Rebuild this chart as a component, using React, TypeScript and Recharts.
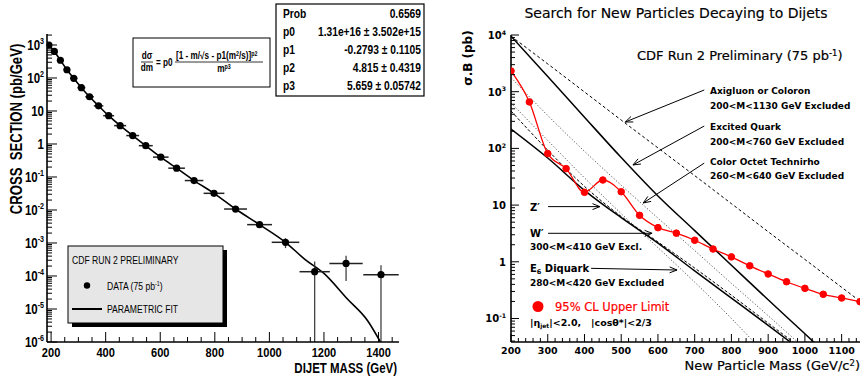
import React from "react";
import {
  ComposedChart,
  ErrorBar,
  Line,
  ReferenceLine,
  Scatter,
  XAxis,
  YAxis,
} from "recharts";

// no condensed face is installed, so the Helvetica-narrow look is made by squeezing Liberation Sans
const SANS = "'Liberation Sans', Arial, sans-serif";
const SQUEEZE = 0.82;
const GOTHIC = "'DejaVu Sans', Verdana, sans-serif";

// ---- dijet mass spectrum (left panel)
const dijetMass = [192, 212, 234, 258, 283, 311, 341, 374, 411, 453, 499, 547, 602, 660, 724, 797, 876, 964, 1059, 1166, 1281, 1409];
const crossSection = [1000, 640, 345, 178, 98, 51, 27, 14.3, 7.2, 3.6, 1.8, 0.89, 0.4, 0.185, 0.078, 0.032, 0.0107, 0.0036, 0.00105, 1.35e-4, 2.4e-4, 1.1e-4];
const binHalfWidth = [10, 10.5, 11.5, 12, 13.5, 14.5, 15.5, 17.5, 20, 22, 23.5, 25.5, 28.5, 30.5, 34, 38, 42, 45.5, 50.5, 55.5, 61, 65];
const statErrLow = [0, 0, 0, 0, 0, 0, 0, 0, 0, 0, 0, 0, 0, 0, 0, 0, 0, 0, 3.5e-4, 1.34e-4, 1.7e-4, 1.09e-4];
const statErrHigh = [0, 0, 0, 0, 0, 0, 0, 0, 0, 0, 0, 0, 0, 0, 0, 0, 0, 0, 3.5e-4, 1.4e-4, 1.7e-4, 1.0e-4];

// parametric fit, sampled along the curve
const fitMass = [192, 212, 234, 258, 283, 311, 341, 374, 411, 453, 499, 547, 602, 660, 724, 797, 876, 964, 1059, 1130, 1200, 1286, 1360, 1407];
const fitValue = [1000, 640, 345, 178, 98, 51, 27, 14.3, 7.2, 3.6, 1.8, 0.89, 0.4, 0.185, 0.078, 0.032, 0.0107, 0.0036, 0.00105, 3.2e-4, 1.2e-4, 2e-5, 4.4e-6, 1e-6];

const fitStats = [
  ["Prob", "0.6569"],
  ["p0", "1.31e+16 \u00b1 3.502e+15"],
  ["p1", "-0.2793 \u00b1 0.1105"],
  ["p2", "4.815 \u00b1 0.4319"],
  ["p3", "5.659 \u00b1 0.05742"],
];

const leftMassTicks = [200, 250, 300, 350, 400, 450, 500, 550, 600, 650, 700, 750, 800, 850, 900, 950, 1000, 1050, 1100, 1150, 1200, 1250, 1300, 1350, 1400, 1450];
const leftDecades = [1e-6, 1e-5, 1e-4, 1e-3, 0.01, 0.1, 1, 10, 100, 1000];
const logSteps = [1, 2, 3, 4, 5, 6, 7, 8, 9];

// ---- resonance search (right panel)
const limitMass = [200, 250, 300, 350, 400, 450, 500, 550, 600, 650, 700, 750, 800, 850, 900, 950, 1000, 1050, 1100, 1150];
const limitValue = [2320, 660, 81, 44, 16.8, 27.7, 17.2, 6.6, 4.0, 3.2, 2.4, 1.68, 1.22, 0.85, 0.61, 0.445, 0.34, 0.267, 0.23, 0.198];

const theoryMass = [200, 300, 400, 500, 600, 700, 800, 900, 1000, 1100, 1200];
const axigluon = [9550, 3090, 990, 316, 102, 33.1, 10.6, 3.39, 1.1, 0.355, 0.115];
const excitedQuark = [9550, 1860, 355, 69, 14.5, 3.55, 0.87, 0.214, 0.0537, 0.0132, 0.0032];
const technirho = [1780, 380, 89, 22.4, 5.9, 1.58, 0.417, 0.112, 0.0295, 0.0078, 0.002];
const e6Diquark = [631, 138, 30.2, 7.08, 1.78, 0.437, 0.1, 0.0209, 0.0044, 0.0009, 0.0002];
const wPrime = [457, 93, 21.4, 6.3, 2.24, 0.776, 0.257, 0.083, 0.0269, 0.0087, 0.0028];
const zPrime = [219, 67.6, 18.2, 6.0, 2.14, 0.69, 0.229, 0.0759, 0.0245, 0.0079, 0.0026];

const rightMassMajors = [200, 300, 400, 500, 600, 700, 800, 900, 1000, 1100];
const rightMassSteps = [0, 20, 40, 60, 80];
const rightDecades = [0.01, 0.1, 1, 10, 100, 1000];

// arrows from the model labels to their curves: [mass, σB] start -> tip
const arrows = [
  [726, 1072, 511, 292],
  [726, 248, 532, 51],
  [726, 55, 560, 10.9],
  [301, 9.4, 442, 9.4],
  [301, 3.18, 584, 3.18],
  [418, 0.767, 652, 0.716],
];

const LEFT_Y = [1e-6, 2154] as [number, number];
const LEFT_X = [185, 1475] as [number, number];
const RIGHT_Y = [0.0385, 10000] as [number, number];
const RIGHT_X = [200, 1150] as [number, number];

const spectrum = dijetMass.map((m, i) => ({
  m,
  v: crossSection[i],
  xe: binHalfWidth[i],
  ye: [statErrLow[i], statErrHigh[i]],
}));
const fitCurve = fitMass.map((m, i) => ({ m, v: fitValue[i] }));
const limitCurve = limitMass.map((m, i) => ({ m, v: limitValue[i] }));
const toCurve = (vals: number[]) => theoryMass.map((m, i) => ({ m, v: vals[i] }));

const leftYTicks = leftDecades.flatMap((d) => logSteps.map((s) => d * s)).filter((v) => v <= LEFT_Y[1]);
const rightYTicks = rightDecades
  .flatMap((d) => logSteps.map((s) => d * s))
  .filter((v) => v >= RIGHT_Y[0])
  .concat([10000]);
const rightXTicks = rightMassMajors.flatMap((m) => rightMassSteps.map((s) => m + s)).filter((m) => m <= RIGHT_X[1]);

const isDecade = (v: number) => Math.abs(Math.log10(v) - Math.round(Math.log10(v))) < 1e-6;

// text placed with a transform so it can be rotated and/or squeezed horizontally
function Txt({ x, y, rotate = 0, squeeze = 1, anchor = "start", children, ...rest }: any) {
  let t = `translate(${x},${y})`;
  if (rotate) t += ` rotate(${rotate})`;
  if (squeeze !== 1) t += ` scale(${squeeze},1)`;
  return (
    <text transform={t} textAnchor={anchor} fill="#000" {...rest}>
      {children}
    </text>
  );
}

function PowerText({ x, y, v, size, font, weight, squeeze = 1 }: any) {
  const e = Math.round(Math.log10(v));
  const common = { x, y, squeeze, anchor: "end", fontFamily: font, fontWeight: weight, fontSize: size };
  if (e === 0) return <Txt {...common}>1</Txt>;
  if (e === 1) return <Txt {...common}>10</Txt>;
  return (
    <Txt {...common}>
      10
      <tspan dy={-size * 0.45} fontSize={size * 0.62}>
        {e}
      </tspan>
    </Txt>
  );
}

// ---- axis tick renderers (ticks point into the frame)
const leftYTick = (p: any) => {
  const v = p.payload.value;
  const major = isDecade(v);
  return (
    <g>
      <line x1={p.x} x2={p.x + (major ? 10 : 5)} y1={p.y} y2={p.y} stroke="#000" strokeWidth={1} />
      {major && <PowerText x={p.x - 3} y={p.y + 5} v={v} size={14} font={SANS} weight="bold" squeeze={SQUEEZE} />}
    </g>
  );
};

const leftXTick = (p: any) => {
  const v = p.payload.value;
  const major = v % 200 === 0;
  return (
    <g>
      <line x1={p.x} x2={p.x} y1={p.y} y2={p.y - (major ? 10 : 5)} stroke="#000" strokeWidth={1} />
      {major && (
        <Txt x={p.x} y={p.y + 15} anchor="middle" squeeze={SQUEEZE} fontFamily={SANS} fontWeight="bold" fontSize={13.5}>
          {v}
        </Txt>
      )}
    </g>
  );
};

const rightYTick = (p: any) => {
  const v = p.payload.value;
  const major = isDecade(v);
  return (
    <g>
      <line x1={p.x} x2={p.x + (major ? 8 : 4)} y1={p.y} y2={p.y} stroke="#000" strokeWidth={1} />
      {major && <PowerText x={p.x - 5} y={p.y + 4} v={v} size={10} font={GOTHIC} weight="bold" />}
    </g>
  );
};

const rightYMirrorTick = (p: any) => {
  const major = isDecade(p.payload.value);
  return <line x1={p.x} x2={p.x - (major ? 8 : 4)} y1={p.y} y2={p.y} stroke="#000" strokeWidth={1} />;
};

const rightXTick = (p: any) => {
  const v = p.payload.value;
  const major = v % 100 === 0;
  return (
    <g>
      <line x1={p.x} x2={p.x} y1={p.y} y2={p.y - (major ? 8 : 4)} stroke="#000" strokeWidth={1} />
      {major && (
        <Txt x={p.x} y={p.y + 12} anchor="middle" fontFamily={GOTHIC} fontWeight="bold" fontSize={9.5}>
          {v}
        </Txt>
      )}
    </g>
  );
};

const rightXTopTick = (p: any) => {
  const major = p.payload.value % 100 === 0;
  return <line x1={p.x} x2={p.x} y1={p.y} y2={p.y + (major ? 8 : 4)} stroke="#000" strokeWidth={1} />;
};

const ArrowShape = (p: any) => {
  const { x1, y1, x2, y2 } = p;
  const a = Math.atan2(y2 - y1, x2 - x1);
  const L = 8;
  const W = 0.38;
  return (
    <g>
      <line x1={x1} y1={y1} x2={x2} y2={y2} stroke="#000" strokeWidth={1} />
      <polyline
        points={`${x2 - L * Math.cos(a - W)},${y2 - L * Math.sin(a - W)} ${x2},${y2} ${x2 - L * Math.cos(a + W)},${y2 - L * Math.sin(a + W)}`}
        fill="none"
        stroke="#000"
        strokeWidth={1}
      />
    </g>
  );
};

const frame = { stroke: "#000", strokeWidth: 1.6 };

function SpectrumPanel() {
  return (
    <ComposedChart
      width={430}
      height={381}
      margin={{ top: 34, right: 31, bottom: 0, left: 0 }}
      style={{ position: "absolute", left: 0, top: 0 }}
    >
      <XAxis
        xAxisId="b"
        dataKey="m"
        type="number"
        domain={LEFT_X}
        allowDataOverflow
        ticks={leftMassTicks}
        interval={0}
        tickSize={0}
        tickMargin={0}
        tickLine={false}
        tick={leftXTick}
        height={39}
        axisLine={frame}
      />
      <XAxis xAxisId="t" orientation="top" type="number" domain={LEFT_X} allowDataOverflow tick={false} tickLine={false} height={0} axisLine={frame} />
      <YAxis
        yAxisId="l"
        type="number"
        scale="log"
        domain={LEFT_Y}
        allowDataOverflow
        ticks={leftYTicks}
        interval={0}
        tickSize={0}
        tickMargin={0}
        tickLine={false}
        tick={leftYTick}
        width={47}
        axisLine={frame}
      />
      <YAxis yAxisId="r" orientation="right" type="number" scale="log" domain={LEFT_Y} allowDataOverflow tick={false} tickLine={false} width={0} axisLine={frame} />
      <Line
        xAxisId="b"
        yAxisId="l"
        data={fitCurve}
        dataKey="v"
        type="monotone"
        stroke="#000"
        strokeWidth={1.6}
        dot={false}
        isAnimationActive={false}
      />
      <Scatter
        xAxisId="b"
        yAxisId="l"
        data={spectrum}
        dataKey="v"
        isAnimationActive={false}
        shape={(s: any) => <circle cx={s.cx} cy={s.cy} r={3.6} fill="#000" />}
      >
        <ErrorBar dataKey="xe" direction="x" width={0} stroke="#222" strokeWidth={1.5} />
        <ErrorBar dataKey="ye" direction="y" width={0} stroke="#333" strokeWidth={1.2} />
      </Scatter>
    </ComposedChart>
  );
}

function SearchPanel() {
  const theory = [
    { vals: axigluon, dash: "3 2.5", color: "#000", w: 1 },
    { vals: excitedQuark, dash: undefined, color: "#000", w: 1.5 },
    { vals: technirho, dash: "1.2 2", color: "#555", w: 1 },
    { vals: e6Diquark, dash: "1.2 2", color: "#555", w: 1 },
    { vals: wPrime, dash: "3 2", color: "#000", w: 1 },
    { vals: zPrime, dash: undefined, color: "#000", w: 1.5 },
  ];
  return (
    <ComposedChart
      width={436}
      height={381}
      margin={{ top: 35, right: 6, bottom: 0, left: 0 }}
      style={{ position: "absolute", left: 430, top: 0 }}
    >
      <XAxis
        xAxisId="b"
        dataKey="m"
        type="number"
        domain={RIGHT_X}
        allowDataOverflow
        ticks={rightXTicks}
        interval={0}
        tickSize={0}
        tickMargin={0}
        tickLine={false}
        tick={rightXTick}
        height={39}
        axisLine={frame}
      />
      <XAxis
        xAxisId="t"
        orientation="top"
        type="number"
        domain={RIGHT_X}
        allowDataOverflow
        ticks={rightXTicks}
        interval={0}
        tickSize={0}
        tickMargin={0}
        tickLine={false}
        tick={rightXTopTick}
        height={0}
        axisLine={frame}
      />
      <YAxis
        yAxisId="l"
        type="number"
        scale="log"
        domain={RIGHT_Y}
        allowDataOverflow
        ticks={rightYTicks}
        interval={0}
        tickSize={0}
        tickMargin={0}
        tickLine={false}
        tick={rightYTick}
        width={81}
        axisLine={frame}
      />
      <YAxis
        yAxisId="r"
        orientation="right"
        type="number"
        scale="log"
        domain={RIGHT_Y}
        allowDataOverflow
        ticks={rightYTicks}
        interval={0}
        tickSize={0}
        tickMargin={0}
        tickLine={false}
        tick={rightYMirrorTick}
        width={0}
        axisLine={frame}
      />
      {theory.map((t, i) => (
        <Line
          key={i}
          xAxisId="b"
          yAxisId="l"
          data={toCurve(t.vals)}
          dataKey="v"
          type="monotone"
          stroke={t.color}
          strokeWidth={t.w}
          strokeDasharray={t.dash}
          dot={false}
          isAnimationActive={false}
        />
      ))}
      <Line
        xAxisId="b"
        yAxisId="l"
        data={limitCurve}
        dataKey="v"
        type="monotone"
        stroke="#ff0000"
        strokeWidth={1.3}
        dot={{ r: 3.3, fill: "#ff0000", stroke: "#ff0000", strokeWidth: 1 }}
        isAnimationActive={false}
      />
      {arrows.map((a, i) => (
        <ReferenceLine
          key={i}
          xAxisId="b"
          yAxisId="l"
          segment={[
            { x: a[0], y: a[1] },
            { x: a[2], y: a[3] },
          ]}
          shape={ArrowShape}
        />
      ))}
    </ComposedChart>
  );
}

function Annotations() {
  const narrow = { fontFamily: SANS, squeeze: SQUEEZE };
  const gothic = { fontFamily: GOTHIC };
  const note = { ...gothic, fontSize: 9, fontWeight: "bold" };
  const formula = { ...narrow, fontSize: 10, fontWeight: "bold" };
  return (
    <svg width={866} height={381} style={{ position: "absolute", left: 0, top: 0, pointerEvents: "none" }}>
      {/* left panel titles */}
      <Txt x={17} y={129} rotate={-90} anchor="middle" dominantBaseline="central" fontSize={16} fontWeight="bold" style={{ whiteSpace: "pre" }} {...narrow}>
        {"CROSS  SECTION (pb/GeV)"}
      </Txt>
      <Txt x={397} y={373} anchor="end" fontSize={14} fontWeight="bold" {...narrow}>
        DIJET MASS (GeV)
      </Txt>

      {/* fit function box */}
      <rect x={133} y={38} width={137} height={49} fill="#fff" stroke="#000" strokeWidth={1} />
      <g>
        <Txt x={147} y={59} anchor="middle" {...formula}>
          {"d\u03c3"}
        </Txt>
        <line x1={141} x2={153} y1={62} y2={62} stroke="#000" strokeWidth={0.8} />
        <Txt x={147} y={71} anchor="middle" {...formula}>
          dm
        </Txt>
        <Txt x={156} y={65.5} {...formula}>
          = p0
        </Txt>
        <Txt x={176} y={59} {...formula}>
          {"[1 - m/\u221as - p1(m"}
          <tspan dy={-3.5} fontSize={6.5}>
            2
          </tspan>
          <tspan dy={3.5}>/s)]</tspan>
          <tspan dy={-3.5} fontSize={6.5}>
            p2
          </tspan>
        </Txt>
        <line x1={175} x2={263} y1={62} y2={62} stroke="#000" strokeWidth={0.8} />
        <Txt x={224} y={72} anchor="middle" {...formula}>
          m
          <tspan dy={-3.5} fontSize={6.5}>
            p3
          </tspan>
        </Txt>
      </g>

      {/* fit statistics */}
      <rect x={276} y={4} width={148} height={92} fill="#fff" stroke="#000" strokeWidth={1.2} />
      {fitStats.map((r, i) => (
        <g key={r[0]}>
          <Txt x={283} y={18 + i * 18} fontSize={12.5} fontWeight="bold" {...narrow}>
            {r[0]}
          </Txt>
          <Txt x={421} y={18 + i * 18} anchor="end" fontSize={12.5} fontWeight="bold" {...narrow}>
            {r[1]}
          </Txt>
        </g>
      ))}

      {/* legend */}
      <rect x={72} y={250} width={155} height={77} fill="#000" />
      <rect x={68} y={246} width={155} height={77} fill="#e6e6e6" stroke="#000" strokeWidth={1} />
      <Txt x={72} y={264} fontSize={10.5} {...narrow}>
        CDF RUN 2 PRELIMINARY
      </Txt>
      <circle cx={87} cy={285.5} r={3.2} fill="#000" />
      <Txt x={107} y={290} fontSize={10.5} {...narrow}>
        DATA (75 pb
        <tspan dy={-4} fontSize={6.5}>
          -1
        </tspan>
        <tspan dy={4}>)</tspan>
      </Txt>
      <line x1={72} x2={102} y1={309} y2={309} stroke="#000" strokeWidth={2} />
      <Txt x={107} y={313} fontSize={10.5} {...narrow}>
        PARAMETRIC FIT
      </Txt>

      {/* right panel titles */}
      <Txt x={676} y={18} anchor="middle" fontSize={14} stroke="#000" strokeWidth={0.15} {...gothic}>
        Search for New Particles Decaying to Dijets
      </Txt>
      <Txt x={468} y={58} rotate={-90} anchor="middle" dominantBaseline="central" fontSize={12} fontWeight="bold" {...gothic}>
        {"\u03c3.B (pb)"}
      </Txt>
      <Txt x={860} y={370} anchor="end" fontSize={13} stroke="#000" strokeWidth={0.2} {...gothic}>
        New Particle Mass (GeV/c
        <tspan dy={-4} fontSize={8.5}>
          2
        </tspan>
        <tspan dy={4}>)</tspan>
      </Txt>
      <Txt x={637} y={60} fontSize={13} stroke="#000" strokeWidth={0.2} {...gothic}>
        CDF Run 2 Preliminary (75 pb
        <tspan dy={-4} fontSize={8.5}>
          -1
        </tspan>
        <tspan dy={4}>)</tspan>
      </Txt>

      {/* model labels */}
      <Txt x={710} y={94} {...note}>Axigluon or Coloron</Txt>
      <Txt x={710} y={109} {...note}>{"200<M<1130 GeV Excluded"}</Txt>
      <Txt x={710} y={130} {...note}>Excited Quark</Txt>
      <Txt x={710} y={145} {...note}>{"200<M<760 GeV Excluded"}</Txt>
      <Txt x={710} y={165} {...note}>Color Octet Technirho</Txt>
      <Txt x={710} y={179} {...note}>{"260<M<640 GeV Excluded"}</Txt>
      <Txt x={530} y={211} {...note} fontSize={10}>
        {"Z\u2032"}
      </Txt>
      <Txt x={530} y={237} {...note} fontSize={10}>
        {"W\u2032"}
      </Txt>
      <Txt x={530} y={250} {...note}>{"300<M<410 GeV Excl."}</Txt>
      <Txt x={530} y={272} {...note} fontSize={10}>
        E
        <tspan dy={2} fontSize={6.5}>
          6
        </tspan>
        <tspan dy={-2}> Diquark</tspan>
      </Txt>
      <Txt x={530} y={286} {...note}>{"280<M<420 GeV Excluded"}</Txt>
      <circle cx={538} cy={306.5} r={5.5} fill="#ff0000" />
      <Txt x={555} y={311} fontSize={11.5} fill="#ff0000" stroke="#ff0000" strokeWidth={0.2} {...gothic}>
        95% CL Upper Limit
      </Txt>
      <Txt x={530} y={326} {...note} fontSize={9.5} style={{ whiteSpace: "pre" }}>
        {"|\u03b7"}
        <tspan dy={2} fontSize={6}>
          jet
        </tspan>
        <tspan dy={-2}>{"|<2.0,   |cos\u03b8*|<2/3"}</tspan>
      </Txt>
    </svg>
  );
}

export default function App() {
  return (
    <div style={{ position: "absolute", left: 0, top: 0, width: 866, height: 381, background: "#fff", overflow: "hidden" }}>
      <SpectrumPanel />
      <SearchPanel />
      <Annotations />
    </div>
  );
}
